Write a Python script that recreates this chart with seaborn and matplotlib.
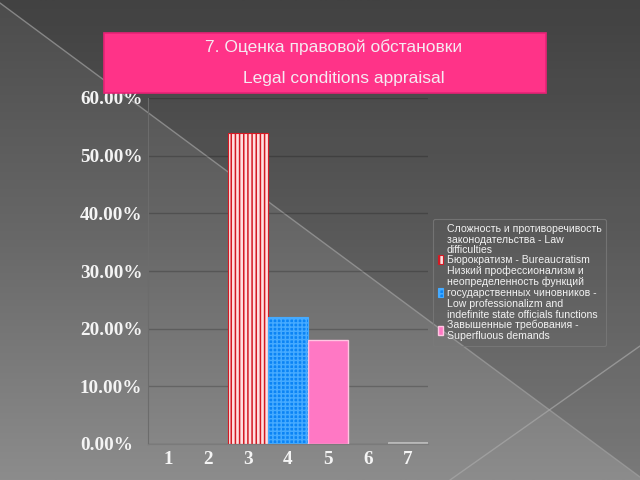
import numpy as np
import pandas as pd
import matplotlib
matplotlib.use("Agg")
import matplotlib.pyplot as plt
import seaborn as sns
from matplotlib.colors import LinearSegmentedColormap
from matplotlib.patches import Rectangle
from matplotlib.ticker import FuncFormatter

# ---- data ----
categories = ["1", "2", "3", "4", "5", "6", "7"]
series = [
    "Сложность и противоречивость\nзаконодательства - Law\ndifficulties",
    "Бюрократизм - Bureaucratism",
    "Низкий профессионализм и\nнеопределенность функций\nгосударственных чиновников -\nLow professionalizm and\nindefinite state officials functions",
    "Завышенные требования -\nSuperfluous demands",
]
series_cat = ["7", "3", "4", "5"]
series_val = [0.003, 0.54, 0.22, 0.18]
yticks = [0.0, 0.1, 0.2, 0.3, 0.4, 0.5, 0.6]
title_lines = ["7. Оценка правовой обстановки", "Legal conditions appraisal"]

df = pd.DataFrame({"cat": series_cat, "value": series_val, "series": series})

sns.set_theme(style="white")
plt.rcParams["hatch.linewidth"] = 1.1

fig = plt.figure(figsize=(6.4, 4.8), dpi=100)

# ---- background ----
bg = fig.add_axes([0, 0, 1, 1], zorder=-10)
bg.axis("off")
bg.set_xlim(0, 640)
bg.set_ylim(480, 0)
grad = np.linspace(0, 1, 256).reshape(-1, 1)
cmap = LinearSegmentedColormap.from_list("bg", ["#4c4c4c", "#686868", "#8c8c8c"])
bg.imshow(grad, extent=(0, 640, 480, 0), aspect="auto", cmap=cmap)
bg.fill([0, 640, 640, 0], [3, 477, 0, 0], color="black", alpha=0.13, lw=0)
bg.plot([0, 640], [3, 477], color="#a0a0a0", lw=1, alpha=0.7)
bg.plot([450, 640], [480, 346], color="#a8a8a8", lw=1, alpha=0.7)

# ---- title box ----
fig.add_artist(Rectangle((104 / 640, 1 - 93 / 480), 442 / 640, 60 / 480,
                         transform=fig.transFigure, facecolor="#ff3388",
                         edgecolor="#e82276", lw=1.2, zorder=5))
fig.text(334 / 640, 1 - 47 / 480, title_lines[0], ha="center", va="center",
         color="#f6eaf2", fontsize=12.5, family="Liberation Sans", zorder=6)
fig.text(344 / 640, 1 - 78 / 480, title_lines[1], ha="center", va="center",
         color="#f6eaf2", fontsize=12.5, family="Liberation Sans", zorder=6)

# ---- main axes ----
ax = fig.add_axes([148 / 640, 1 - 444 / 480, 280 / 640, 346 / 480])
ax.set_facecolor("none")
palette = {series[0]: "#b4b4b4", series[1]: "#ffe0e0",
           series[2]: "#0b84f5", series[3]: "#ff78c4"}
sns.barplot(data=df, x="cat", y="value", hue="series", order=categories,
            hue_order=series, dodge=False, width=1.0, palette=palette,
            saturation=1, ax=ax, legend=False)

styles = [
    dict(edgecolor="#c4c4c4", lw=0.5, hatch=None),
    dict(edgecolor="#d41a24", lw=0.8, hatch="||||"),
    dict(edgecolor="#45aaff", lw=0.8, hatch="++++"),
    dict(edgecolor="#ffc6e2", lw=1.0, hatch=None),
]
for cont, st in zip(ax.containers, styles):
    for p in cont:
        p.set_edgecolor(st["edgecolor"])
        p.set_linewidth(st["lw"])
        if st["hatch"]:
            p.set_hatch(st["hatch"])

ax.set_ylim(0, 0.6)
ax.set_xlim(-0.5, 6.5)
ax.set_yticks(yticks)
ax.yaxis.set_major_formatter(FuncFormatter(lambda v, _: f"{v * 100:.2f}%"))
ax.set_xlabel("")
ax.set_ylabel("")
ax.yaxis.grid(True, color="black", alpha=0.2, lw=1)
ax.xaxis.grid(False)
ax.set_axisbelow(True)
for s in ["top", "right"]:
    ax.spines[s].set_visible(False)
ax.spines["left"].set_color("#6c6c6c")
ax.spines["left"].set_linewidth(0.8)
ax.spines["bottom"].set_color("#7a7a7a")
ax.spines["bottom"].set_linewidth(0.8)

ax.tick_params(axis="y", length=0, pad=49, labelsize=13.8, labelcolor="#f4f4f4")
ax.tick_params(axis="x", length=0, pad=5, labelsize=13.8, labelcolor="#f4f4f4")
for t in ax.get_yticklabels() + ax.get_xticklabels():
    t.set_family("Liberation Serif")
    t.set_fontweight("bold")
for t in ax.get_yticklabels():
    t.set_horizontalalignment("left")

# ---- legend ----
leg = ax.legend(ax.containers, series, loc="upper left",
                bbox_to_anchor=(433 / 640, 1 - 219 / 480),
                bbox_transform=fig.transFigure, frameon=True,
                prop={"family": "Liberation Sans", "size": 7.6},
                labelspacing=0.0, handlelength=0.5, handleheight=0.9,
                handletextpad=0.35, borderpad=0.45, borderaxespad=0)
leg.get_frame().set_facecolor("none")
leg.get_frame().set_edgecolor("#7a7a7a")
leg.get_frame().set_linewidth(0.8)
for t in leg.get_texts():
    t.set_color("#f2f2f2")
    t.set_linespacing(1.1)
leg.legend_handles[0].set_alpha(0)

fig.savefig("out.png", dpi=100)
